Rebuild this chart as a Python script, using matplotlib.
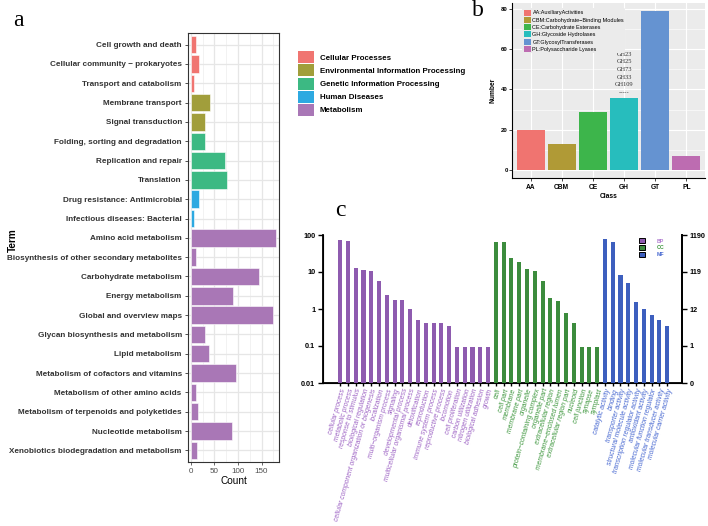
import matplotlib
matplotlib.use("Agg")
import matplotlib.pyplot as plt
import matplotlib.patches as mpatches
import numpy as np

# ---------------- data ----------------
kegg_terms = ["Cell growth and death", "Cellular community \u2212 prokaryotes", "Transport and catabolism",
              "Membrane transport", "Signal transduction", "Folding, sorting and degradation",
              "Replication and repair", "Translation", "Drug resistance: Antimicrobial",
              "Infectious diseases: Bacterial", "Amino acid metabolism",
              "Biosynthesis of other secondary metabolites", "Carbohydrate metabolism",
              "Energy metabolism", "Global and overview maps", "Glycan biosynthesis and metabolism",
              "Lipid metabolism", "Metabolism of cofactors and vitamins",
              "Metabolism of other amino acids", "Metabolism of terpenoids and polyketides",
              "Nucleotide metabolism", "Xenobiotics biodegradation and metabolism"]
kegg_counts = [12, 18, 7, 41, 29, 31, 72, 76, 17, 6, 180, 12, 144, 90, 174, 30, 39, 96, 12, 15, 88, 13]
kegg_class = ["Cellular Processes"] * 3 + ["Environmental Information Processing"] * 2 + \
             ["Genetic Information Processing"] * 3 + ["Human Diseases"] * 2 + ["Metabolism"] * 12
kegg_classes = ["Cellular Processes", "Environmental Information Processing",
                "Genetic Information Processing", "Human Diseases", "Metabolism"]

cazy_class = ["AA", "CBM", "CE", "GH", "GT", "PL"]
cazy_number = [20, 13, 29, 36, 79, 7]
cazy_legend = ["AA:AuxiliaryActivities", "CBM:Carbohydrate\u2212Binding Modules",
               "CE:Carbohydrate Esterases", "GH:Glycoside Hydrolases",
               "GT:GlycosylTransferases", "PL:Polysaccharide Lyases"]
gh_notes = ["GH23", "GH25", "GH73", "GH33", "GH109", "-----"]
gh_note_y = [57.5, 53.7, 50.0, 46.2, 42.4, 38.2]

bp_terms = ["cellular process", "metabolic process", "response to stimulus", "biological regulation",
            "cellular component organization or biogenesis", "localization", "multi\u2212organism process",
            "signaling", "developmental process", "multicellular organismal process", "detoxification",
            "reproduction", "immune system process", "reproductive process", "locomotion",
            "cell proliferation", "carbon utilization", "nitrogen utilization", "biological adhesion", "growth"]
bp_pct = [72, 67, 12.8, 11.6, 10.9, 5.8, 2.35, 1.76, 1.76, 1.0, 0.5, 0.42, 0.42, 0.42, 0.34,
          0.084, 0.084, 0.084, 0.084, 0.084]
cc_terms = ["cell", "cell part", "membrane", "membrane part", "organelle", "protein\u2212containing complex",
            "organelle part", "extracellular region", "membrane\u2212enclosed lumen",
            "extracellular region part", "nucleoid", "cell junction", "synapse", "symplast"]
cc_pct = [63, 63, 23.4, 19, 12.3, 10.6, 5.7, 1.94, 1.64, 0.76, 0.42, 0.084, 0.084, 0.084]
mf_terms = ["catalytic activity", "binding", "transporter activity", "structural molecule activity",
            "transcription regulator activity", "antioxidant activity", "molecular function regulator",
            "molecular transducer activity", "molecular carrier activity"]
mf_pct = [78, 65, 8.1, 4.94, 1.55, 1.0, 0.66, 0.5, 0.34]
right_ticks = ["0", "1", "12", "119", "1190"]

# ---------------- style ----------------
W, H = 708, 526
fig = plt.figure(figsize=(W / 100, H / 100), dpi=100)
plt.rcParams['font.family'] = ['Liberation Sans', 'DejaVu Sans']

def box(x0, y0, x1, y1):
    return [x0 / W, 1 - y1 / H, (x1 - x0) / W, (y1 - y0) / H]

kegg_colors = {"Cellular Processes": "#F07571", "Environmental Information Processing": "#A19E3B",
               "Genetic Information Processing": "#3CB983", "Human Diseases": "#2DA9E1",
               "Metabolism": "#A977B6"}

# ---------------- panel a ----------------
axa = fig.add_axes(box(188, 33, 279, 462))
ypos = np.arange(len(kegg_terms))
axa.barh(ypos, kegg_counts, height=0.9, color=[kegg_colors[c] for c in kegg_class],
         edgecolor="white", linewidth=0.4, zorder=3)
axa.set_ylim(len(kegg_terms) - 0.4, -0.6)
axa.set_xlim(-6, 187)
axa.set_yticks(ypos)
axa.set_yticklabels(kegg_terms, fontsize=5.9, fontweight="bold", color="#333333")
axa.set_xticks([0, 50, 100, 150])
axa.set_xticks([25, 75, 125, 175], minor=True)
axa.tick_params(axis="x", labelsize=5.8, colors="#4D4D4D", length=2.5, width=0.6, pad=1.5)
axa.tick_params(axis="x", which="minor", length=0)
axa.tick_params(axis="y", length=2.5, width=0.6, pad=2, colors="#333333")
axa.grid(True, which="major", color="#E6E6E6", linewidth=0.9, zorder=0)
axa.grid(True, which="minor", axis="x", color="#EDEDED", linewidth=0.5, zorder=0)
for s in axa.spines.values():
    s.set_color("#333333"); s.set_linewidth(0.8)
axa.set_xlabel("Count", fontsize=7.2, labelpad=1, color="black")
fig.text(13 / W, 1 - 240 / H, "Term", rotation=90, fontsize=7.2, fontweight="bold",
         ha="center", va="center")
handles = [mpatches.Patch(facecolor=kegg_colors[c], edgecolor="none", label=c) for c in kegg_classes]
leg = fig.legend(handles=handles, loc="upper left", bbox_to_anchor=(292 / W, 1 - 45 / H),
                 frameon=False, prop={"size": 5.7, "weight": "bold"}, handlelength=1.95,
                 handleheight=1.95, labelspacing=0.15, handletextpad=0.75, borderpad=0.3)
fig.text(13 / W, 1 - 20 / H, "a", family="Liberation Serif", fontsize=17, ha="left", va="center")

# ---------------- panel b ----------------
cazy_colors = ["#F07470", "#B09A36", "#3DB54B", "#27BDBD", "#6593D1", "#BD6CB1"]
axb = fig.add_axes(box(512, 3, 705, 178))
axb.set_facecolor("#EBEBEB")
xb = np.arange(len(cazy_class))
axb.bar(xb, cazy_number, width=0.9, color=cazy_colors, zorder=3)
axb.set_xlim(-0.6, 5.6)
axb.set_ylim(-4, 83)
axb.set_yticks([0, 20, 40, 60, 80])
axb.set_yticks([10, 30, 50, 70], minor=True)
axb.set_xticks(xb)
axb.set_xticklabels(cazy_class, fontsize=4.8, fontweight="bold")
axb.tick_params(axis="y", labelsize=4.3, length=2, width=0.5, pad=1)
axb.tick_params(axis="y", which="minor", length=0)
for lab in axb.get_yticklabels():
    lab.set_fontweight("bold")
axb.tick_params(axis="x", length=2, width=0.5, pad=2)
axb.grid(True, which="major", color="white", linewidth=0.8, zorder=0)
axb.grid(True, which="minor", axis="y", color="white", linewidth=0.4, zorder=0)
for k in ["top", "right"]:
    axb.spines[k].set_visible(False)
for k in ["left", "bottom"]:
    axb.spines[k].set_color("black"); axb.spines[k].set_linewidth(0.8)
axb.set_xlabel("Class", fontsize=4.8, fontweight="bold", labelpad=2)
axb.set_ylabel("Number", fontsize=4.8, fontweight="bold", labelpad=3)
axb.legend(handles=[mpatches.Patch(facecolor=c, label=l) for c, l in zip(cazy_colors, cazy_legend)],
           loc="upper left", bbox_to_anchor=(0.04, 0.985), fontsize=4.0, frameon=True,
           facecolor="#EBEBEB", edgecolor="none", framealpha=1, handlelength=1.3,
           handleheight=1.3, labelspacing=0.22, handletextpad=0.3, borderpad=0.2)
gi = cazy_class.index("GH")
for t, yv in zip(gh_notes, gh_note_y):
    axb.text(gi, yv, t, family="Liberation Serif", fontsize=4.6, ha="center", va="center", color="#333333")
fig.text(472 / W, 1 - 11 / H, "b", family="Liberation Serif", fontsize=17, ha="left", va="center")

# ---------------- panel c ----------------
axc = fig.add_axes(box(323, 235, 682, 383))
terms = bp_terms + cc_terms + mf_terms
vals = bp_pct + cc_pct + mf_pct
bar_cols = ["#8E5BAF"] * len(bp_terms) + ["#3C8C3D"] * len(cc_terms) + ["#3D5FBE"] * len(mf_terms)
txt_cols = ["#9D63C4"] * len(bp_terms) + ["#3C963C"] * len(cc_terms) + ["#4566D0"] * len(mf_terms)
xc = np.arange(len(terms))
axc.bar(xc, vals, width=0.52, color=bar_cols, bottom=0.01, zorder=3)
axc.set_yscale("log")
axc.set_ylim(0.01, 100)
axc.set_xlim(-2.2, len(terms) + 0.9)
axc.set_yticks([0.01, 0.1, 1, 10, 100])
axc.set_yticklabels(["0.01", "0.1", "1", "10", "100"], fontsize=5.2, fontweight="bold")
axc.minorticks_off()
axc.set_xticks(xc)
axc.set_xticklabels(terms, rotation=74, ha="right", va="top", rotation_mode="anchor",
                    fontsize=4.9, style="italic")
for lab, c in zip(axc.get_xticklabels(), txt_cols):
    lab.set_color(c)
axc.tick_params(axis="x", length=2, width=1.0, pad=1.5)
axc.tick_params(axis="y", length=3.5, width=1.0, pad=2)
axc.spines["top"].set_visible(False)
for k in ["left", "bottom", "right"]:
    axc.spines[k].set_linewidth(1.3)
axr = axc.twinx()
axr.set_yscale("log")
axr.set_ylim(0.01, 100)
axr.minorticks_off()
axr.set_yticks([0.01, 0.1, 1, 10, 100])
axr.set_yticklabels(right_ticks, fontsize=5.2, fontweight="bold")
axr.tick_params(axis="y", length=3.5, width=1.0, pad=2)
axr.spines["top"].set_visible(False)
axr.spines["right"].set_linewidth(1.3)
lc = axc.legend(handles=[mpatches.Patch(facecolor="#8E5BAF", edgecolor="black", linewidth=0.7, label="BP"),
                         mpatches.Patch(facecolor="#3C8C3D", edgecolor="black", linewidth=0.7, label="CC"),
                         mpatches.Patch(facecolor="#3D5FBE", edgecolor="black", linewidth=0.7, label="MF")],
                loc="upper left", bbox_to_anchor=(0.872, 1.0), frameon=False,
                prop={"size": 3.8, "weight": "bold"}, handlelength=1.15, handleheight=1.15,
                labelspacing=0.25, handletextpad=2.2, borderpad=0.1)
for t, c in zip(lc.get_texts(), ["#B07CD0", "#3C963C", "#4566D0"]):
    t.set_color(c)
fig.text(335 / W, 1 - 210 / H, "c", family="Liberation Serif", fontsize=17, ha="left", va="center")

fig.savefig("out.png", dpi=100)
